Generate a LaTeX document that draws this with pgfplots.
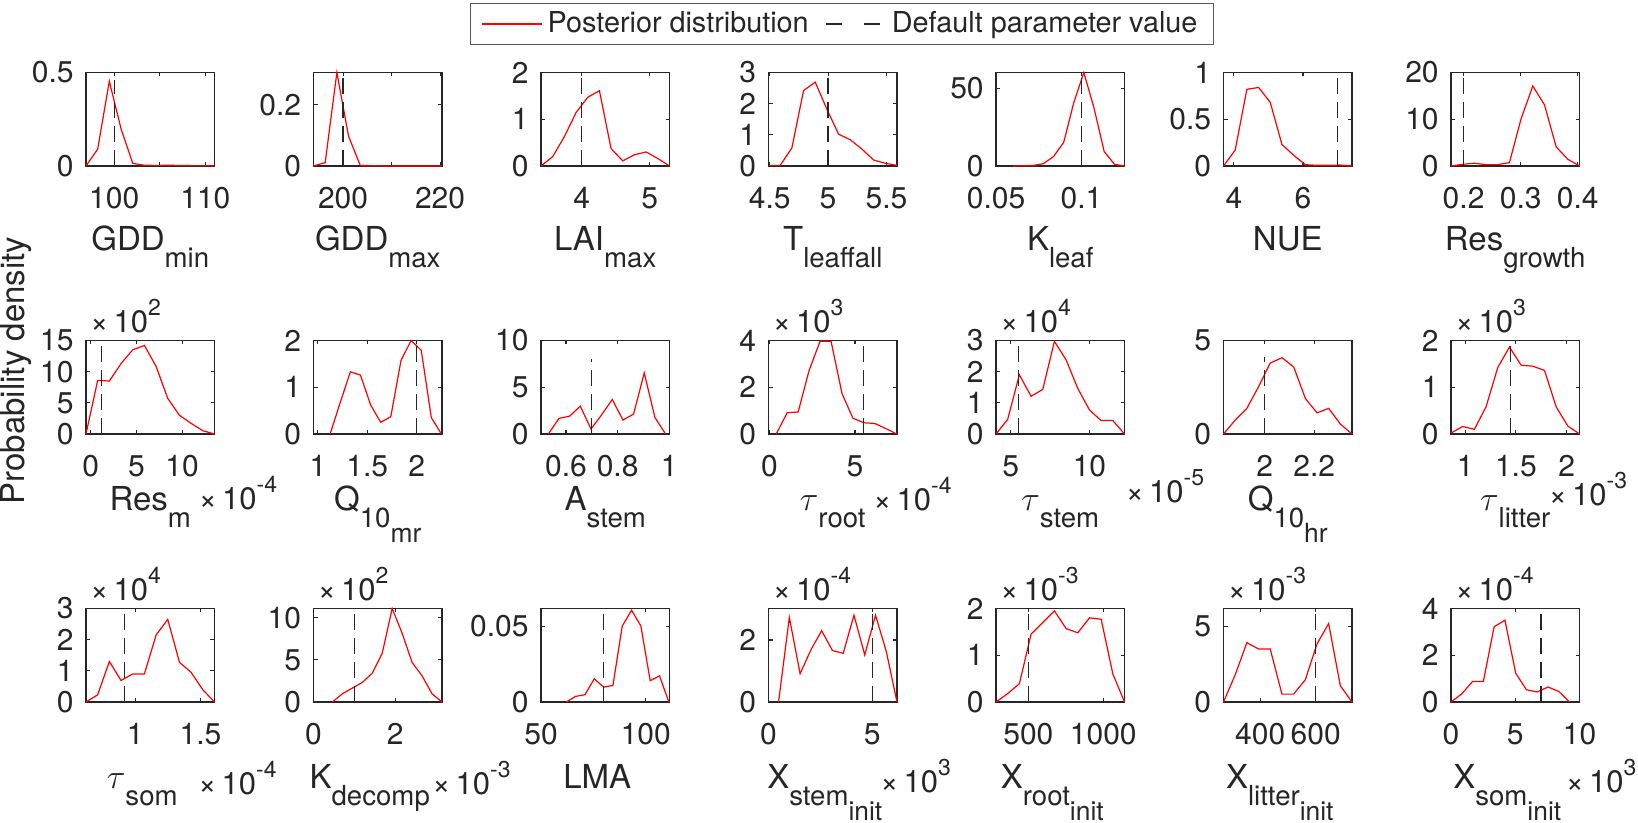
\documentclass[border=0pt]{standalone}
\usepackage{pgfplots}
\pgfplotsset{compat=1.18}
\usepackage{fontspec}
\setmainfont{TeX Gyre Heros}
\definecolor{axc}{RGB}{38,38,38}
\newcommand\tf{\fontsize{15}{17}\selectfont}
\newcommand\lgf{\fontsize{14.4}{17}\selectfont}
\newcommand\lf{\fontsize{16.5}{19}\selectfont}
\newcommand\sub[1]{\raisebox{-8.3pt}{\fontsize{13.8}{15}\selectfont #1}}
\newcommand\ssub[1]{\raisebox{-7.4pt}{\fontsize{13.2}{14}\selectfont #1}}
\newcommand\xten[1]{{\fontsize{15.5}{17}\selectfont ×\,10}\raisebox{8.5pt}{\fontsize{11.5}{12}\selectfont #1}}
\pgfplotsset{
 P/.style={
  scale only axis, width=64.25pt, height=46.75pt, anchor=south west,
  axis line style={axc, line width=0.55pt},
  tick style={axc, line width=0.55pt},
  tick align=inside, major tick length=2pt,
  tick label style={font=\tf, text=axc},
  /pgf/number format/assume math mode=true,
  xticklabel style={inner ysep=0pt, yshift=-10.5pt},
  yticklabel style={inner xsep=0pt, xshift=-6pt},
  scaled ticks=false, ymin=0, clip=false,
  xlabel style={at={(axis description cs:0.5,0)}, anchor=base, font=\lf, text=axc, inner sep=0pt},
 },
 R1/.style={xlabel style={yshift=-42.5pt}},
 R2/.style={xlabel style={yshift=-38.5pt}},
 R3/.style={xlabel style={yshift=-43.5pt, xshift=-4pt}},
 post/.style={red, line width=0.6pt, forget plot},
 dflt/.style={axc, line width=0.6pt, dash pattern=on 8pt off 4pt, forget plot},
}
\newcommand\yexp[1]{\node[anchor=base west, font=\tf, text=axc, inner sep=0pt, xshift=2pt, yshift=4pt] at (rel axis cs:0,1) {\xten{#1}};}
\newcommand\xexp[3]{\node[anchor=base west, font=\tf, text=axc, inner sep=0pt, xshift=#2, yshift=#3] at (rel axis cs:1,0) {\xten{#1}};}
\begin{document}
\begin{tikzpicture}
\path[use as bounding box] (0,0) rectangle (819pt,411.5pt);
% ---------------- Row 1 ----------------
\begin{axis}[P,R1,at={(43pt,328.5pt)}, xmin=96.9,xmax=111,ymax=0.5,
 xtick={100,105,110}, xticklabels={100,,110}, ytick={0,0.5}, yticklabels={0,0.5},
 xlabel={GDD\sub{min}},
 legend style={at={(5.883,1.519)}, anchor=center, draw=black!65, line width=0.5pt, font=\lgf, text=axc,
   inner xsep=5.5pt, inner ysep=3.3pt, nodes={inner xsep=2.5pt, inner ysep=1pt}, legend columns=2,
   /tikz/every even column/.append style={column sep=6pt}},
 legend image code/.code={\draw[#1] (0pt,0pt) -- (30pt,0pt);}]
\addlegendimage{red, line width=0.6pt}
\addlegendentry{Posterior distribution}
\addlegendimage{axc, line width=0.6pt, dash pattern=on 8pt off 11pt}
\addlegendentry{Default parameter value}
\addplot[post] coordinates {(96.9,0)(98.18,0.09)(99.46,0.453)(100.75,0.198)(102.03,0.014)(103.31,0.004)(104.6,0.003)(105.88,0.004)(107.16,0.003)(108.44,0.002)(109.72,0.002)(111,0)};
\addplot[dflt] coordinates {(100,0)(100,0.46)};
\end{axis}
\begin{axis}[P,R1,at={(156.75pt,328.5pt)}, xmin=193.9,xmax=220.4,ymax=0.305,
 xtick={200,210,220}, xticklabels={200,,220}, ytick={0,0.2}, yticklabels={0,0.2},
 xlabel={GDD\sub{max}}]
\addplot[post] coordinates {(193.9,0)(196.31,0.011)(198.72,0.305)(201.13,0.097)(203.54,0.002)(205.95,0.001)(208.35,0)(210.76,0)(213.17,0)(215.58,0)(217.99,0)(220.4,0)};
\addplot[dflt] coordinates {(200,0)(200,0.305)};
\end{axis}
\begin{axis}[P,R1,at={(270.5pt,328.5pt)}, xmin=3.40,xmax=5.29,ymax=2,
 xtick={4,5}, xticklabels={4,5}, ytick={0,1,2}, yticklabels={0,1,2},
 xlabel={LAI\sub{max}}]
\addplot[post] coordinates {(3.40,0)(3.572,0.2)(3.744,0.63)(3.915,1.14)(4.087,1.47)(4.259,1.61)(4.431,0.37)(4.603,0.11)(4.774,0.24)(4.946,0.3)(5.118,0.16)(5.29,0)};
\addplot[dflt] coordinates {(4,0)(4,2)};
\end{axis}
\begin{axis}[P,R1,at={(384.25pt,328.5pt)}, xmin=4.49,xmax=5.59,ymax=3,
 xtick={4.5,5,5.5}, xticklabels={4.5,5,5.5}, ytick={0,1,2,3}, yticklabels={0,1,2,3},
 xlabel={T\sub{leaffall}}]
\addplot[post] coordinates {(4.49,0.02)(4.59,0.02)(4.69,0.58)(4.79,2.42)(4.89,2.69)(4.99,1.82)(5.09,1.02)(5.19,0.84)(5.29,0.54)(5.39,0.19)(5.49,0.086)(5.59,0.02)};
\addplot[dflt] coordinates {(5,0)(5,3)};
\end{axis}
\begin{axis}[P,R1,at={(498pt,328.5pt)}, xmin=0.05,xmax=0.1252,ymax=60,
 xtick={0.05,0.1}, xticklabels={0.05,0.1}, ytick={0,50}, yticklabels={0,50},
 xlabel={K\sub{leaf}}]
\addplot[post] coordinates {(0.0599,0)(0.0658,0.1)(0.0717,0.3)(0.0777,1.5)(0.0836,6.0)(0.0896,15.1)(0.0955,40.6)(0.1014,60)(0.1074,37)(0.1133,9.3)(0.1193,1.1)(0.1252,0)};
\addplot[dflt] coordinates {(0.1,0)(0.1,60)};
\end{axis}
\begin{axis}[P,R1,at={(611.75pt,328.5pt)}, xmin=3.70,xmax=7.42,ymax=1,
 xtick={4,6}, xticklabels={4,6}, ytick={0,0.5,1}, yticklabels={0,0.5,1},
 xlabel={NUE}]
\addplot[post] coordinates {(3.70,0)(4.038,0.17)(4.376,0.82)(4.715,0.84)(5.053,0.68)(5.391,0.23)(5.729,0.115)(6.067,0.014)(6.406,0.007)(6.744,0.007)(7.082,0.01)(7.42,0)};
\addplot[dflt] coordinates {(7,0)(7,0.96)};
\end{axis}
\begin{axis}[P,R1,at={(725.5pt,328.5pt)}, xmin=0.178,xmax=0.403,ymax=20,
 xtick={0.2,0.3,0.4}, xticklabels={0.2,0.3,0.4}, ytick={0,10,20}, yticklabels={0,10,20},
 xlabel={Res\sub{growth}}]
\addplot[post] coordinates {(0.178,0)(0.1985,0.36)(0.2189,0.58)(0.2394,0.29)(0.2598,0.29)(0.2803,0.72)(0.3007,10.1)(0.3212,17.1)(0.3416,13.1)(0.3621,4.1)(0.3825,1.44)(0.403,0)};
\addplot[dflt] coordinates {(0.2,0)(0.2,19.5)};
\end{axis}
% ---------------- Row 2 ----------------
\begin{axis}[P,R2,at={(43pt,194.5pt)}, xmin=-0.51,xmax=13.55,ymax=15,
 xtick={0,5,10}, xticklabels={0,5,10}, ytick={0,5,10,15}, yticklabels={0,5,10,15},
 xlabel={Res\sub{m}}]
\addplot[post] coordinates {(-0.51,0)(0.768,8.6)(2.046,8.5)(3.324,11.3)(4.602,13.5)(5.88,14.2)(7.158,10.85)(8.436,5.7)(9.714,3.0)(10.992,1.7)(12.27,0.53)(13.55,0)};
\addplot[dflt] coordinates {(1.2,0)(1.2,15)};
\yexp{2}
\xexp{-4}{-8pt}{-38pt}
\node[rotate=90, font=\lf, text=axc] at (rel axis cs:-0.547,0.679) {Probability density};
\end{axis}
\begin{axis}[P,R2,at={(156.75pt,194.5pt)}, xmin=0.956,xmax=2.256,ymax=2,
 xtick={1,1.5,2}, xticklabels={1,1.5,2}, ytick={0,1,2}, yticklabels={0,1,2},
 xlabel={Q\sub{10\ssub{mr}}}]
\addplot[post] coordinates {(1.124,0)(1.226,0.67)(1.329,1.33)(1.431,1.26)(1.534,0.62)(1.636,0.25)(1.738,0.37)(1.841,1.57)(1.943,2.0)(2.046,1.79)(2.148,0.35)(2.25,0)};
\addplot[dflt] coordinates {(2,0)(2,2)};
\end{axis}
\begin{axis}[P,R2,at={(270.5pt,194.5pt)}, xmin=0.503,xmax=1.001,ymax=10,
 xtick={0.6,0.8,1}, xticklabels={0.6,0.8,1}, ytick={0,5,10}, yticklabels={0,5,10},
 xlabel={A\sub{stem}}]
\addplot[post] coordinates {(0.5314,0)(0.5727,1.67)(0.614,1.91)(0.6553,2.98)(0.6966,0.53)(0.7379,2.05)(0.7792,3.69)(0.8205,1.49)(0.8618,2.13)(0.9031,6.53)(0.9444,1.77)(0.9857,0)};
\addplot[dflt] coordinates {(0.7,0)(0.7,8.05)};
\end{axis}
\begin{axis}[P,R2,at={(384.25pt,194.5pt)}, xmin=-0.05,xmax=7.45,ymax=4,
 xtick={0,5}, xticklabels={0,5}, ytick={0,2,4}, yticklabels={0,2,4},
 xlabel={$\tau$\sub{root}}]
\addplot[post] coordinates {(0.40,0)(1.04,0.91)(1.68,0.94)(2.32,2.72)(2.96,3.97)(3.60,3.97)(4.24,1.73)(4.88,0.67)(5.52,0.48)(6.16,0.45)(6.80,0.23)(7.44,0)};
\addplot[dflt] coordinates {(5.5,0)(5.5,4)};
\yexp{3}
\xexp{-4}{-12pt}{-38.5pt}
\end{axis}
\begin{axis}[P,R2,at={(498pt,194.5pt)}, xmin=4.06,xmax=12.23,ymax=3,
 xtick={5,10}, xticklabels={5,10}, ytick={0,1,2,3}, yticklabels={0,1,2,3},
 xlabel={$\tau$\sub{stem}}]
\addplot[post] coordinates {(4.06,0)(4.803,0.47)(5.545,1.9)(6.288,1.21)(7.031,1.43)(7.773,2.97)(8.516,2.38)(9.259,1.46)(10.002,0.77)(10.744,0.43)(11.487,0.43)(12.23,0)};
\addplot[dflt] coordinates {(5.5,0)(5.5,3)};
\yexp{4}
\xexp{-5}{0.5pt}{-34.5pt}
\end{axis}
\begin{axis}[P,R2,at={(611.75pt,194.5pt)}, xmin=1.834,xmax=2.352,ymax=5,
 xtick={2,2.2}, xticklabels={2,2.2}, ytick={0,5}, yticklabels={0,5},
 xlabel={Q\sub{10\ssub{hr}}}]
\addplot[post] coordinates {(1.834,0)(1.881,0.74)(1.928,1.37)(1.975,2.52)(2.022,3.79)(2.070,4.08)(2.117,3.58)(2.164,1.9)(2.211,1.13)(2.258,1.37)(2.305,0.53)(2.352,0)};
\addplot[dflt] coordinates {(2,0)(2,4.1)};
\end{axis}
\begin{axis}[P,R2,at={(725.5pt,194.5pt)}, xmin=0.861,xmax=2.127,ymax=2,
 xtick={1,1.5,2}, xticklabels={1,1.5,2}, ytick={0,1,2}, yticklabels={0,1,2},
 xlabel={$\tau$\sub{litter}}]
\addplot[post] coordinates {(0.861,0.02)(0.976,0.16)(1.091,0.1)(1.206,0.58)(1.321,1.42)(1.437,1.86)(1.552,1.47)(1.667,1.45)(1.782,1.36)(1.897,0.58)(2.012,0.17)(2.127,0)};
\addplot[dflt] coordinates {(1.45,0)(1.45,1.93)};
\yexp{3}
\xexp{-3}{-15.5pt}{-36pt}
\end{axis}
% ---------------- Row 3 ----------------
\begin{axis}[P,R3,at={(43pt,60.5pt)}, xmin=0.623,xmax=1.607,ymax=3,
 xtick={1,1.5}, xticklabels={1,1.5}, ytick={0,1,2,3}, yticklabels={0,1,2,3},
 xlabel={$\tau$\sub{som}}]
\addplot[post] coordinates {(0.623,0)(0.712,0.23)(0.802,1.3)(0.891,0.69)(0.981,0.9)(1.070,0.9)(1.160,2.15)(1.249,2.65)(1.339,1.27)(1.428,0.95)(1.518,0.39)(1.607,0)};
\addplot[dflt] coordinates {(0.915,0)(0.915,2.85)};
\yexp{4}
\xexp{-4}{-8.25pt}{-46.5pt}
\end{axis}
\begin{axis}[P,R3,at={(156.75pt,60.5pt)}, xmin=0,xmax=3.15,ymax=11.1,
 xtick={0,2}, xticklabels={0,2}, ytick={0,5,10}, yticklabels={0,5,10},
 xlabel={K\sub{decomp}}]
\addplot[post] coordinates {(0.465,0)(0.709,0.98)(0.953,1.65)(1.197,2.32)(1.441,3.43)(1.685,5.79)(1.929,11.1)(2.173,8.15)(2.417,4.69)(2.661,3.11)(2.905,0.98)(3.149,0)};
\addplot[dflt] coordinates {(1,0)(1,10.7)};
\yexp{2}
\xexp{-3}{-5pt}{-46.5pt}
\end{axis}
\begin{axis}[P,R3,at={(270.5pt,60.5pt)}, xmin=50,xmax=111.3,ymax=0.0616,
 xtick={50,100}, xticklabels={50,100}, ytick={0,0.05}, yticklabels={0,0.05},
 xlabel={LMA}]
\addplot[post] coordinates {(62.07,0)(66.52,0.0037)(70.96,0.0048)(75.41,0.0153)(79.86,0.0098)(84.31,0.0109)(88.75,0.05)(93.2,0.0605)(97.65,0.05)(102.09,0.014)(106.54,0.0172)(110.99,0)};
\addplot[dflt] coordinates {(80,0)(80,0.06)};
\end{axis}
\begin{axis}[P,R3,at={(384.25pt,60.5pt)}, xmin=0,xmax=6.19,ymax=3.016,
 xtick={0,5}, xticklabels={0,5}, ytick={0,2}, yticklabels={0,2},
 xlabel={X\sub{stem\ssub{init}}}]
\addplot[post] coordinates {(0.484,0)(1.003,2.73)(1.522,0.91)(2.041,1.68)(2.56,2.3)(3.079,1.66)(3.598,1.57)(4.117,2.8)(4.636,1.52)(5.155,2.8)(5.674,1.63)(6.19,0)};
\addplot[dflt] coordinates {(5,0)(5,2.9)};
\yexp{-4}
\xexp{3}{-8.5pt}{-45.5pt}
\end{axis}
\begin{axis}[P,R3,at={(498pt,60.5pt)}, xmin=284,xmax=1142,ymax=2,
 xtick={500,1000}, xticklabels={500,1000}, ytick={0,1,2}, yticklabels={0,1,2},
 xlabel={X\sub{root\ssub{init}}}]
\addplot[post] coordinates {(284,0)(362,0.18)(440,0.39)(518,1.45)(596,1.7)(674,1.95)(752,1.57)(830,1.48)(908,1.8)(986,1.77)(1064,0.6)(1142,0)};
\addplot[dflt] coordinates {(500,0)(500,1.93)};
\yexp{-3}
\end{axis}
\begin{axis}[P,R3,at={(611.75pt,60.5pt)}, xmin=267.6,xmax=730.6,ymax=6.16,
 xtick={400,600}, xticklabels={400,600}, ytick={0,5}, yticklabels={0,5},
 xlabel={X\sub{litter\ssub{init}}}]
\addplot[post] coordinates {(267.6,0)(309.7,1.79)(351.8,3.91)(393.9,3.49)(435.96,3.49)(478.05,0.52)(520.14,0.52)(562.23,1.46)(604.32,3.82)(646.41,5.17)(688.5,1.07)(730.6,0)};
\addplot[dflt] coordinates {(600,0)(600,5.83)};
\yexp{-3}
\end{axis}
\begin{axis}[P,R3,at={(725.5pt,60.5pt)}, xmin=0,xmax=10,ymax=4,
 xtick={0,5,10}, xticklabels={0,5,10}, ytick={0,2,4}, yticklabels={0,2,4},
 xlabel={X\sub{som\ssub{init}}}]
\addplot[post] coordinates {(0,0)(0.839,0.35)(1.678,0.88)(2.517,0.88)(3.356,3.22)(4.195,3.5)(5.034,1.23)(5.873,0.52)(6.712,0.43)(7.551,0.64)(8.39,0.45)(9.229,0)};
\addplot[dflt] coordinates {(7,0)(7,3.86)};
\yexp{-4}
\xexp{3}{-7pt}{-45.5pt}
\end{axis}
\end{tikzpicture}
\end{document}
